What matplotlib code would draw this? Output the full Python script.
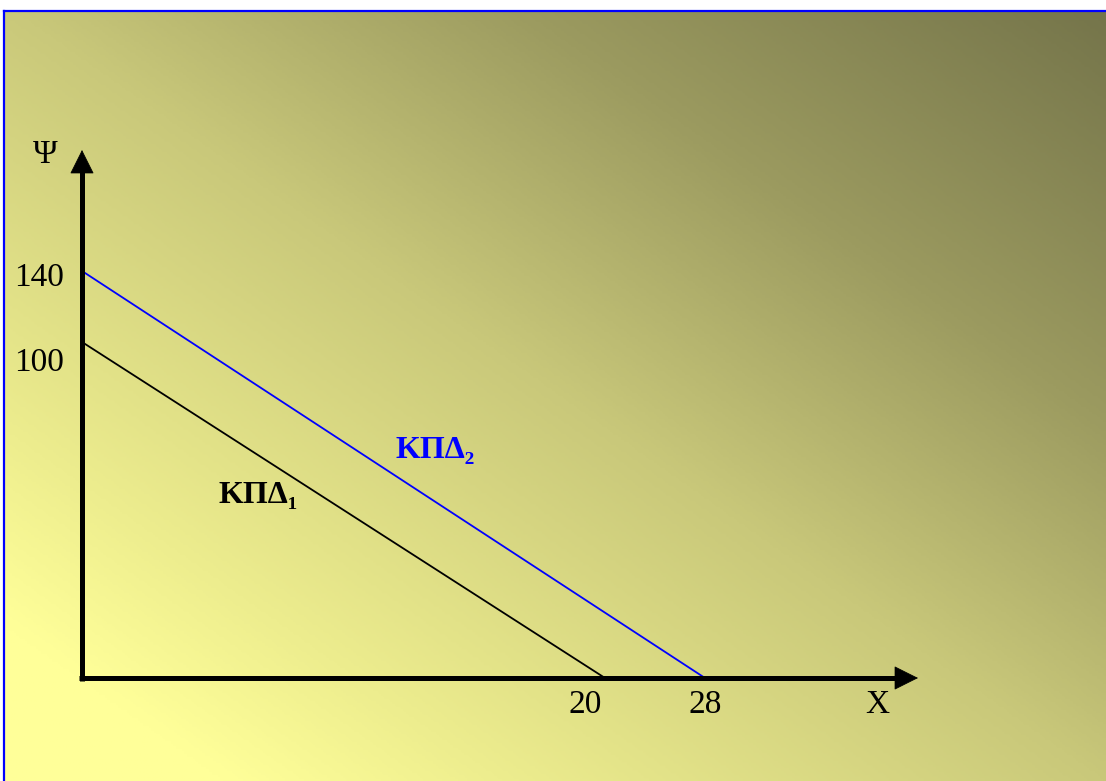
import numpy as np
import matplotlib
matplotlib.use("Agg")
import matplotlib.pyplot as plt
from matplotlib.colors import LinearSegmentedColormap

# Data: two budget lines (intercepts on the Y and X axes)
line_names = ["ΚΠΔ₁", "ΚΠΔ₂"]
y_intercepts = [100, 140]
x_intercepts = [20, 28]
line_colors = ["black", "blue"]

x_ticks = [20, 28]
y_ticks = [140, 100]

W, H = 1106, 781
SERIF = ["Liberation Serif", "DejaVu Serif"]

fig = plt.figure(figsize=(W / 100, H / 100), dpi=100)

# background gradient (light yellow bottom-left -> olive top-right)
bg = fig.add_axes([0, 0, 1, 1])
bg.set_xlim(0, W)
bg.set_ylim(H, 0)
bg.axis("off")
xx, yy = np.meshgrid(np.linspace(4, W, 400), np.linspace(11, H, 300))
t = (xx / W + (H - yy) / H) / 2
cmap = LinearSegmentedColormap.from_list(
    "bg", [(0, "#FFFF99"), (0.1, "#FFFF99"), (0.225, "#EDED8E"),
           (0.5, "#C9C87A"), (0.73, "#9C9B60"), (1.0, "#74744A")])
bg.imshow(t, cmap=cmap, vmin=0, vmax=1, extent=(4, W, H, 11), aspect="auto")
bg.plot([4, W], [11, 11], color="blue", lw=1.6)
bg.plot([4, 4], [11, H], color="blue", lw=1.6)

# main axes, origin at pixel (82, 678)
ox, oy = 82, 678
ax = fig.add_axes([ox / W, (H - oy) / H, (918 - ox) / W, (oy - 150) / H])
ax.patch.set_alpha(0)

# schematic (not to scale) axes: piecewise linear scales
X_DATA, X_PX = [0, 20, 28, 100], [0, 523, 623, 1523]
Y_DATA, Y_PX = [0, 100, 140, 300], [0, 336, 407, 691]
ax.set_xscale("function", functions=(lambda v: np.interp(v, X_DATA, X_PX),
                                     lambda p: np.interp(p, X_PX, X_DATA)))
ax.set_yscale("function", functions=(lambda v: np.interp(v, Y_DATA, Y_PX),
                                     lambda p: np.interp(p, Y_PX, Y_DATA)))
ax.set_xlim(0, np.interp(918 - ox, X_PX, X_DATA))
ax.set_ylim(0, np.interp(oy - 150, Y_PX, Y_DATA))
for s in ax.spines.values():
    s.set_visible(False)
ax.set_xticks([])
ax.set_yticks([])

for yi, xi, c in zip(y_intercepts, x_intercepts, line_colors):
    ax.plot([0, xi], [yi, 0], color=c, lw=1.3, solid_capstyle="butt")

# axes: thick lines + sharp triangular heads
ax.plot([0, 0], [-0.006, 0.97], transform=ax.transAxes, color="black",
        lw=3.6, solid_capstyle="butt", clip_on=False)
ax.plot([-0.003, 0.98], [0, 0], transform=ax.transAxes, color="black",
        lw=3.6, solid_capstyle="butt", clip_on=False)
head = dict(arrowstyle="-|>,head_length=0.8,head_width=0.4", lw=0.5,
            color="black", mutation_scale=20, shrinkA=0, shrinkB=0,
            joinstyle="miter")
ax.annotate("", xy=(0, 1), xytext=(0, 0.95), xycoords="axes fraction",
            arrowprops=head)
ax.annotate("", xy=(1, 0), xytext=(0.96, 0), xycoords="axes fraction",
            arrowprops=head)

# tick labels
for v, dx in zip(x_ticks, [-20, 0]):
    ax.annotate(str(v), xy=(v, 0), xytext=(dx, -27), textcoords="offset pixels",
                ha="center", va="center", fontsize=24, family=SERIF)
for v, dy in zip(y_ticks, [-7, -21]):
    ax.annotate(str(v), xy=(0, v), xytext=(-18, dy), textcoords="offset pixels",
                ha="right", va="center", fontsize=24, family=SERIF)

fig.text(45 / W, 1 - 155 / H, "Ψ", ha="center", va="center", fontsize=24, family=SERIF)
fig.text(877 / W, 1 - 705 / H, "X", ha="center", va="center", fontsize=24, family=SERIF)

# line labels
for name, c, (px, py) in zip(line_names, line_colors, [(258, 495), (435, 450)]):
    fig.text(px / W, 1 - py / H, name, ha="center", va="center", fontsize=23,
             fontweight="bold", color=c, family=SERIF)

fig.savefig("out.png", dpi=100)
